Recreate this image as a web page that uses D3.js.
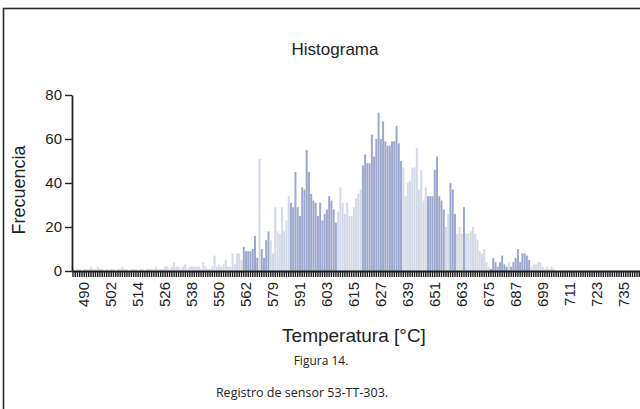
<!DOCTYPE html>
<html>
<head>
<meta charset="utf-8">
<script src="https://cdn.jsdelivr.net/npm/d3@7"></script>
<style>
body { margin: 0; background: #fff; }
svg { display: block; }
</style>
</head>
<body>
<svg id="chart"></svg>
<script>
// bins: one per degree, the source skips 574-578
let binTemps = d3.range(485, 574).concat(d3.range(579, 744))

let tickLabels = [490, 502, 514, 526, 538, 550, 562, 579, 591, 603, 615, 627, 639, 651, 663, 675, 687, 699, 711, 723, 735]

let yTicks = [0, 20, 40, 60, 80]

let frequencies = [
  1, 0, 1, 1, 0, 1, 1, 1, 2, 1,
  1, 2, 1, 1, 0, 1, 0, 1, 1, 0,
  1, 1, 2, 1, 1, 0, 1, 1, 1, 0,
  1, 1, 0, 1, 1, 1, 1, 2, 1, 1,
  1, 2, 2, 1, 2, 4, 2, 2, 1, 2,
  3, 1, 2, 2, 2, 2, 2, 1, 4, 2,
  1, 1, 2, 7, 2, 3, 2, 3, 5, 2,
  2, 8, 3, 8, 8, 5, 11, 9, 9, 9,
  10, 16, 6, 51, 10, 6, 14, 18, 14, 8,
  29, 18, 17, 29, 18, 23, 34, 31, 29, 45,
  29, 25, 38, 37, 55, 45, 35, 32, 31, 25,
  31, 23, 26, 28, 34, 32, 28, 22, 27, 38,
  31, 26, 31, 25, 25, 29, 33, 35, 37, 48,
  53, 49, 49, 62, 52, 60, 72, 60, 68, 59,
  57, 57, 59, 59, 66, 58, 50, 47, 34, 40,
  41, 47, 47, 56, 37, 46, 32, 38, 34, 34,
  34, 46, 52, 34, 32, 28, 20, 26, 40, 37,
  26, 17, 20, 17, 29, 17, 17, 18, 20, 17,
  14, 9, 8, 10, 4, 2, 1, 6, 4, 2,
  4, 7, 3, 2, 4, 2, 4, 6, 10, 4,
  8, 8, 7, 5, 2, 3, 3, 4, 4, 2,
  1, 2, 1, 2, 1, 0, 0, 0, 0, 0,
  0, 0, 0, 0, 0, 0, 0, 0, 0, 0,
  0, 0, 0, 0, 0, 0, 0, 0, 0, 0,
  0, 0, 0, 0, 0, 0, 0, 0, 0, 0,
  0, 0, 0, 0
]

// shade bands over bin index ranges (light / mid)
let light = "#d4d9e7"
let mid = "#9ca8cc"
let shadeBands = [
  [0, 75, light], [76, 82, mid], [83, 83, light], [84, 87, mid], [88, 96, light],
  [97, 117, mid], [118, 128, light], [129, 146, mid], [147, 157, light],
  [158, 165, mid], [166, 167, light], [168, 170, mid], [171, 173, light],
  [174, 174, mid], [175, 185, light], [186, 193, mid], [194, 194, light],
  [195, 203, mid], [204, 253, light]
]

let w = 640
let h = 409
let padLeft = 72
let plotTop = 95
let plotBottom = 271
let svg = d3.select("#chart").attr("width", w).attr("height", h)

let data = binTemps.map((t, i) => ({ t: t, v: frequencies[i], i: i }))

let shadeOf = (i) => {
  let b = shadeBands.find((s) => i >= s[0] && i <= s[1])
  return b ? b[2] : light
}

let xScale = d3.scaleBand()
               .domain(binTemps)
               .range([padLeft, padLeft + binTemps.length * 2.246])
               .paddingInner(0.12)
               .paddingOuter(0)

let yScale = d3.scaleLinear()
               .domain([0, 80])
               .range([plotBottom, plotTop])

// frame
svg.append("rect")
   .attr("x", 3.5).attr("y", 8.5)
   .attr("width", w).attr("height", h)
   .attr("fill", "none")
   .attr("stroke", "#2b2b2b")
   .attr("stroke-width", 1.6)

svg.append("text")
   .attr("x", 335).attr("y", 55)
   .attr("text-anchor", "middle")
   .style("font-family", "Liberation Sans, Arial, sans-serif")
   .style("font-size", "17px")
   .style("fill", "#222")
   .text("Histograma")

svg.selectAll(".bar")
   .data(data)
   .enter()
   .append("rect")
   .attr("class", "bar")
   .attr("x", (d) => xScale(d.t))
   .attr("y", (d) => yScale(d.v))
   .attr("width", xScale.bandwidth())
   .attr("height", (d) => plotBottom - yScale(d.v))
   .attr("fill", (d) => shadeOf(d.i))

let xAxis = d3.axisBottom(xScale)
              .tickSize(6)
              .tickSizeOuter(0)
              .tickFormat((d) => tickLabels.includes(d) ? d : "")

let gx = svg.append("g")
            .attr("transform", `translate(0, ${plotBottom})`)
            .call(xAxis)
gx.select(".domain").attr("stroke", "#1a1a1a").attr("stroke-width", 1.8)
gx.selectAll(".tick line").attr("stroke", "#1e1e1e").attr("stroke-width", 1.4)
gx.selectAll(".tick text")
  .attr("transform", "rotate(-90)")
  .attr("x", -11)
  .attr("y", 0)
  .attr("dy", "0.35em")
  .attr("text-anchor", "end")
  .style("font-family", "Liberation Sans, Arial, sans-serif")
  .style("font-size", "15px")
  .style("fill", "#222")

let yAxis = d3.axisLeft(yScale)
              .tickValues(yTicks)
              .tickSize(7)
              .tickSizeOuter(0)

let gy = svg.append("g")
            .attr("transform", `translate(${padLeft}, 0)`)
            .call(yAxis)
gy.select(".domain").attr("stroke", "#222").attr("stroke-width", 1.8)
gy.selectAll(".tick line").attr("stroke", "#222").attr("stroke-width", 1.4)
gy.selectAll(".tick text")
  .attr("x", -10)
  .style("font-family", "Liberation Sans, Arial, sans-serif")
  .style("font-size", "15px")
  .style("fill", "#222")

svg.append("text")
   .attr("transform", "translate(25, 190) rotate(-90)")
   .attr("text-anchor", "middle")
   .style("font-family", "Liberation Sans, Arial, sans-serif")
   .style("font-size", "18px")
   .style("fill", "#222")
   .text("Frecuencia")

svg.append("text")
   .attr("x", 354).attr("y", 342)
   .attr("text-anchor", "middle")
   .style("font-family", "Liberation Sans, Arial, sans-serif")
   .style("font-size", "19px")
   .style("fill", "#222")
   .text("Temperatura [°C]")

svg.append("text")
   .attr("x", 321).attr("y", 365)
   .attr("text-anchor", "middle")
   .style("font-family", "Open Sans, sans-serif")
   .style("font-size", "12px")
   .style("fill", "#222")
   .text("Figura 14.")

svg.append("text")
   .attr("x", 302).attr("y", 397)
   .attr("text-anchor", "middle")
   .style("font-family", "Open Sans, sans-serif")
   .style("font-size", "12.5px")
   .style("fill", "#222")
   .text("Registro de sensor 53-TT-303.")
</script>
</body>
</html>
